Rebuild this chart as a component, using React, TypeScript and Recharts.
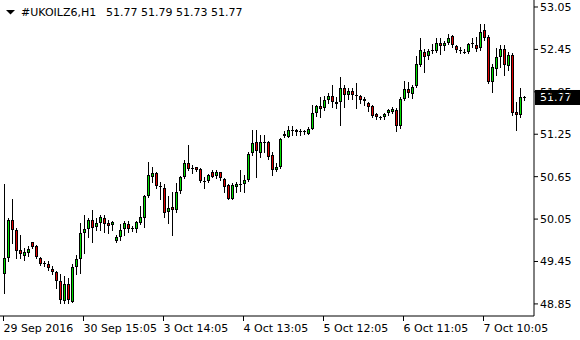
import React from 'react';
import { ComposedChart, Bar, XAxis, YAxis, ReferenceLine } from 'recharts';

const SYMBOL = '#UKOILZ6';
const PERIOD = 'H1';

// hourly bars, oldest first
const OPEN = [
    49.27, 49.50, 50.04, 49.90, 49.61, 49.53, 49.575, 49.72, 49.67, 49.50,
    49.43, 49.415, 49.345, 49.30, 49.18, 48.89, 49.13, 48.88, 49.37, 49.49,
    49.85, 49.91, 50.03, 49.94, 49.99, 50.06, 50.00, 49.96, 49.745, 49.79,
    49.905, 49.98, 49.91, 49.905, 50.00, 50.06, 50.38, 50.65, 50.70, 50.52,
    50.49, 50.146, 50.22, 50.175, 50.45, 50.64, 50.85, 50.77, 50.78, 50.755,
    50.59, 50.59, 50.71, 50.665, 50.71, 50.61, 50.53, 50.34, 50.51, 50.54,
    50.54, 50.60, 50.98, 51.14, 50.99, 51.14, 51.14, 50.96, 50.745, 50.78,
    51.22, 51.215, 51.31, 51.31, 51.28, 51.285, 51.26, 51.33, 51.55, 51.65,
    51.62, 51.735, 51.79, 51.70, 51.70, 51.90, 51.805, 51.86, 51.805, 51.79,
    51.75, 51.69, 51.65, 51.53, 51.49, 51.49, 51.545, 51.57, 51.595, 51.36,
    51.75, 51.89, 51.815, 51.93, 52.23, 52.42, 52.35, 52.43, 52.43, 52.54,
    52.50, 52.54, 52.64, 52.50, 52.44, 52.42, 52.41, 52.53, 52.51, 52.465,
    52.72, 52.63, 51.99, 52.18, 52.34, 52.45, 52.22, 52.37, 51.57, 51.52,
    51.77,
];
const HIGH = [
    50.55, 50.06, 50.34, 49.92, 49.83, 49.64, 49.67, 49.73, 49.68, 49.52,
    49.46, 49.45, 49.39, 49.31, 49.28, 49.25, 49.21, 49.415, 49.54, 49.99,
    50.11, 50.06, 50.18, 50.06, 50.11, 50.11, 50.04, 50.02, 49.83, 49.98,
    50.02, 50.02, 49.95, 50.02, 50.23, 50.39, 50.86, 50.78, 50.71, 50.58,
    50.55, 50.38, 50.44, 50.56, 50.66, 50.89, 51.10, 50.81, 50.79, 50.77,
    50.65, 50.69, 50.745, 50.745, 50.72, 50.63, 50.55, 50.56, 50.58, 50.745,
    50.68, 51.00, 51.31, 51.31, 51.24, 51.24, 51.155, 51.00, 50.84, 51.19,
    51.29, 51.37, 51.37, 51.33, 51.32, 51.31, 51.35, 51.66, 51.66, 51.78,
    51.79, 51.83, 51.94, 51.78, 52.06, 51.95, 51.90, 51.90, 51.97, 51.80,
    51.77, 51.71, 51.66, 51.545, 51.51, 51.55, 51.61, 51.64, 51.62, 51.77,
    52.00, 51.99, 51.94, 52.35, 52.61, 52.46, 52.45, 52.53, 52.61, 52.61,
    52.575, 52.67, 52.65, 52.51, 52.48, 52.46, 52.54, 52.61, 52.62, 52.81,
    52.81, 52.65, 52.25, 52.47, 52.51, 52.51, 52.42, 52.40, 51.71, 51.90,
    51.79,
];
const LOW = [
    49.00, 49.45, 49.71, 49.50, 49.50, 49.47, 49.53, 49.64, 49.50, 49.40,
    49.38, 49.33, 49.28, 49.07, 48.86, 48.86, 48.86, 48.87, 49.28, 49.29,
    49.57, 49.80, 49.72, 49.89, 49.90, 49.87, 49.86, 49.90, 49.72, 49.755,
    49.83, 49.87, 49.88, 49.87, 49.98, 49.94, 50.36, 50.58, 50.49, 50.34,
    50.08, 49.99, 49.825, 50.155, 50.415, 50.63, 50.745, 50.70, 50.73, 50.58,
    50.49, 50.57, 50.64, 50.63, 50.60, 50.43, 50.33, 50.33, 50.44, 50.45,
    50.44, 50.59, 50.96, 50.65, 50.93, 51.00, 50.90, 50.68, 50.73, 50.77,
    51.21, 51.21, 51.24, 51.24, 51.24, 51.25, 51.25, 51.325, 51.51, 51.50,
    51.59, 51.69, 51.64, 51.62, 51.38, 51.63, 51.75, 51.75, 51.62, 51.69,
    51.66, 51.58, 51.50, 51.46, 51.46, 51.46, 51.52, 51.545, 51.29, 51.34,
    51.73, 51.77, 51.76, 51.92, 52.21, 52.135, 52.32, 52.40, 52.42, 52.39,
    52.44, 52.53, 52.48, 52.42, 52.40, 52.40, 52.395, 52.48, 52.43, 52.44,
    52.58, 51.97, 51.85, 52.09, 52.20, 52.09, 52.16, 51.52, 51.31, 51.50,
    51.73,
];
const CLOSE = [
    49.50, 50.04, 49.90, 49.60, 49.55, 49.585, 49.62, 49.66, 49.51, 49.415,
    49.415, 49.354, 49.30, 49.18, 48.90, 49.13, 48.91, 49.37, 49.486, 49.85,
    49.91, 50.03, 49.92, 50.00, 50.08, 49.98, 49.95, 50.005, 49.79, 49.89,
    49.99, 49.915, 49.93, 50.005, 50.075, 50.38, 50.67, 50.70, 50.52, 50.50,
    50.13, 50.20, 50.175, 50.44, 50.64, 50.85, 50.755, 50.76, 50.75, 50.59,
    50.58, 50.68, 50.65, 50.71, 50.63, 50.51, 50.34, 50.53, 50.55, 50.53,
    50.60, 50.97, 51.12, 51.02, 51.14, 51.13, 50.93, 50.745, 50.79, 51.18,
    51.25, 51.31, 51.30, 51.28, 51.295, 51.295, 51.33, 51.55, 51.65, 51.61,
    51.735, 51.79, 51.70, 51.68, 51.91, 51.80, 51.86, 51.80, 51.80, 51.74,
    51.72, 51.64, 51.51, 51.49, 51.48, 51.53, 51.595, 51.61, 51.36, 51.75,
    51.89, 51.83, 51.915, 52.24, 52.44, 52.34, 52.43, 52.44, 52.54, 52.50,
    52.545, 52.61, 52.51, 52.44, 52.43, 52.41, 52.53, 52.545, 52.455, 52.70,
    52.61, 51.99, 52.20, 52.34, 52.45, 52.23, 52.37, 51.55, 51.52, 51.77,
    51.77,
];

// time labels and the bar each one sits on
const TIME_LABELS = ['29 Sep 2016', '30 Sep 15:05', '3 Oct 14:05', '4 Oct 13:05', '5 Oct 12:05', '6 Oct 11:05', '7 Oct 10:05'];
const TIME_LABEL_BARS = [0, 20, 40, 60, 80, 100, 120];

const PRICE_TICKS = [48.85, 49.45, 50.05, 50.65, 51.25, 51.85, 52.45, 53.05];
const PRICE_DOMAIN = [48.679, 53.149];

const UP_COLOR = '#00e000';
const DOWN_COLOR = '#e00000';
const FONT = '"DejaVu Sans", Verdana, sans-serif';

const data = OPEN.map((o, i) => ({
    i,
    open: o,
    high: HIGH[i],
    low: LOW[i],
    close: CLOSE[i],
    range: [LOW[i], HIGH[i]],
}));

const last = data[data.length - 1];

const Candle = (props: any) => {
    const { x, y, width, height, payload } = props;
    const { open, close, high, low } = payload;
    const ppu = height / (high - low);
    const cx = Math.round(x + width / 2 - 0.5) + 0.5;
    const py = (p: number) => y + (high - p) * ppu;
    const top = Math.round(py(Math.max(open, close)));
    const bot = Math.round(py(Math.min(open, close)));
    const fill = close >= open ? UP_COLOR : DOWN_COLOR;
    return (
        <g shapeRendering="crispEdges">
            <line x1={cx} x2={cx} y1={Math.round(y)} y2={Math.round(y + height) + 1} stroke="#000" strokeWidth={1} />
            {bot - top <= 1 ? (
                <line x1={cx - 1.5} x2={cx + 1.5} y1={top + 0.5} y2={top + 0.5} stroke="#000" strokeWidth={1} />
            ) : (
                <rect x={cx - 1} y={top + 0.5} width={2} height={bot - top - 1} fill={fill} stroke="#000" strokeWidth={1} />
            )}
        </g>
    );
};

const TimeTick = (props: any) => {
    const { x, y, payload } = props;
    const idx = TIME_LABEL_BARS.indexOf(payload.value);
    return (
        <text x={Math.round(x) - 0.5} y={y + 9} textAnchor="start" fontSize={11} fontFamily={FONT} fill="#000">
            {TIME_LABELS[idx]}
        </text>
    );
};

// black box with the last price, drawn over the axis like the terminal does
const PriceLabel = (props: any) => {
    const { viewBox } = props;
    const left = viewBox.x + viewBox.width + 1;
    const cy = viewBox.y;
    return (
        <g>
            <rect x={left} y={cy - 7.5} width={46} height={15} fill="#000" />
            <text x={left + 5} y={cy + 4} fontSize={11} fontFamily={FONT} fill="#fff">
                {last.close.toFixed(2)}
            </text>
        </g>
    );
};

export default function App() {
    return (
        <div style={{ position: 'absolute', left: 0, top: 0, width: 580, height: 340, background: '#fff' }}>
            <ComposedChart width={580} height={340} data={data} margin={{ top: 0, right: 0, bottom: 0, left: 0 }}>
                <XAxis
                    dataKey="i"
                    type="category"
                    ticks={TIME_LABEL_BARS}
                    interval={0}
                    height={24}
                    padding={{ left: 1.5, right: 8.5 }}
                    axisLine={{ stroke: '#000' }}
                    tickLine={{ stroke: '#000' }}
                    tickSize={5}
                    tick={<TimeTick />}
                />
                <YAxis
                    orientation="right"
                    width={46}
                    domain={PRICE_DOMAIN}
                    allowDataOverflow
                    ticks={PRICE_TICKS}
                    interval={0}
                    tickFormatter={(v: number) => v.toFixed(2)}
                    tickSize={4}
                    tickMargin={2}
                    axisLine={{ stroke: '#000' }}
                    tickLine={{ stroke: '#000' }}
                    tick={{ fontSize: 11, fontFamily: FONT, fill: '#000' }}
                />
                <Bar dataKey="range" barSize={3} isAnimationActive={false} shape={<Candle />} />
                <ReferenceLine y={last.close} stroke="none" label={<PriceLabel />} />
            </ComposedChart>
            <svg width={320} height={20} style={{ position: 'absolute', left: 0, top: 0 }}>
                <polygon points="6,10 15,10 10.5,14.5" fill="#000" />
                <text x={21} y={15.5} fontSize={11} fontFamily={FONT} fill="#000">
                    {`${SYMBOL},${PERIOD}`}
                </text>
                <text x={106} y={15.5} fontSize={11} fontFamily={FONT} fill="#000">
                    {`${last.open.toFixed(2)} ${last.high.toFixed(2)} ${last.low.toFixed(2)} ${last.close.toFixed(2)}`}
                </text>
            </svg>
        </div>
    );
}
